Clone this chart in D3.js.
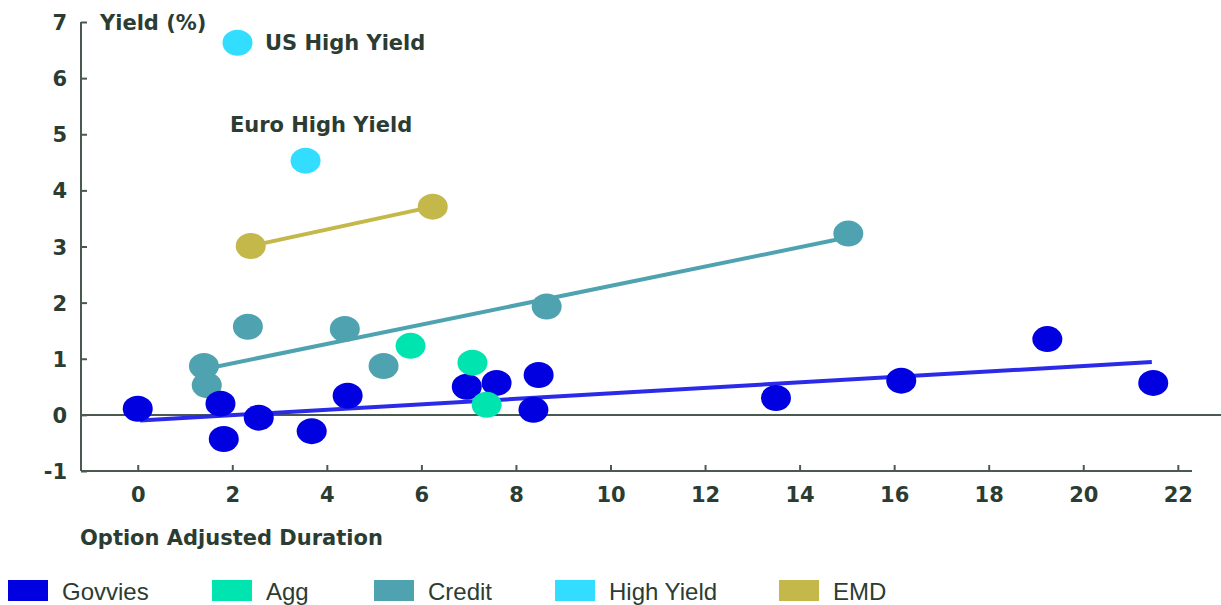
<!DOCTYPE html>
<html>
<head>
<meta charset="utf-8">
<script src="https://cdn.jsdelivr.net/npm/d3@7"></script>
<style>
  body { margin: 0; background: #fff; }
  svg text { font-family: "DejaVu Sans", sans-serif; fill: #2b3d33; }
</style>
</head>
<body>
<div id="chart"></div>
<script>
// categories and colours
var seriesNames = ["Govvies", "Agg", "Credit", "High Yield", "EMD"];
var seriesColors = ["#0000e0", "#00e5b0", "#4fa3b0", "#33ddff", "#c4b84a"];

// points: [duration, yield]
var govvies = [[0, 0.11], [1.75, 0.2], [1.82, -0.43], [2.56, -0.05], [3.68, -0.29], [4.44, 0.34],
    [6.96, 0.5], [7.59, 0.57], [8.37, 0.09], [8.48, 0.71], [13.5, 0.3], [16.15, 0.61],
    [19.24, 1.35], [21.48, 0.57]];
var agg = [[5.77, 1.23], [7.08, 0.93], [7.38, 0.18]];
var credit = [[1.4, 0.87], [1.46, 0.53], [2.33, 1.57], [4.38, 1.53], [5.2, 0.87], [8.65, 1.93], [15.03, 3.23]];
var highYield = [[2.11, 6.63], [3.55, 4.53]];
var emd = [[2.39, 3.01], [6.24, 3.71]];

// trend lines
var govviesLine = [[0.05, -0.1], [21.45, 0.94]];
var creditLine = [[1.6, 0.85], [14.95, 3.15]];
var emdLine = [[2.39, 3.01], [6.24, 3.71]];

// annotation labels
var notes = [{text: "US High Yield", x: 2.69, y: 6.63}, {text: "Euro High Yield", x: 1.95, y: 5.18}];

var xTicks = [0, 2, 4, 6, 8, 10, 12, 14, 16, 18, 20, 22];
var yTicks = [-1, 0, 1, 2, 3, 4, 5, 6, 7];

var W = 1221, H = 605;
var axisColor = "#4a5a50";

var svg = d3.select("#chart").append("svg").attr("width", W).attr("height", H);

var x = d3.scaleLinear().domain([-1.2, 22.3]).range([81, 1192]);
var y = d3.scaleLinear().domain([-1, 7]).range([471, 22]);

// y axis
var yAxis = d3.axisLeft(y).tickValues(yTicks).tickSize(-6).tickPadding(14).tickFormat(d => String(d));
var gy = svg.append("g").attr("transform", "translate(81,0)").call(yAxis);
gy.select(".domain").attr("stroke", axisColor).attr("stroke-width", 2).attr("d", "M0," + y(7) + "V" + y(-1));
gy.selectAll(".tick line").attr("stroke", axisColor).attr("stroke-width", 2);
gy.selectAll("text").style("font-size", "21px").style("font-weight", "bold").attr("dy", "0.36em");

// x axis
var xAxis = d3.axisBottom(x).tickValues(xTicks).tickSize(-6).tickPadding(16);
var gx = svg.append("g").attr("transform", "translate(0," + y(-1) + ")").call(xAxis);
gx.select(".domain").attr("stroke", axisColor).attr("stroke-width", 2).attr("d", "M81,0H1192");
gx.selectAll(".tick line").attr("stroke", axisColor).attr("stroke-width", 2);
gx.selectAll("text").style("font-size", "21px").style("font-weight", "bold");

// zero line
svg.append("line").attr("x1", 81).attr("x2", W).attr("y1", y(0)).attr("y2", y(0))
    .attr("stroke", axisColor).attr("stroke-width", 2);

// axis titles
svg.append("text").attr("x", 100).attr("y", 30).text("Yield (%)")
    .style("font-size", "21px").style("font-weight", "bold");
svg.append("text").attr("x", 80).attr("y", 545).text("Option Adjusted Duration")
    .style("font-size", "21px").style("font-weight", "bold");

var line = d3.line().x(d => x(d[0])).y(d => y(d[1]));

svg.append("path").datum(govviesLine).attr("d", line).attr("stroke", "#2a2ae8").attr("stroke-width", 4).attr("fill", "none");
svg.append("path").datum(creditLine).attr("d", line).attr("stroke", "#4fa3b0").attr("stroke-width", 4).attr("fill", "none");
svg.append("path").datum(emdLine).attr("d", line).attr("stroke", "#c4b84a").attr("stroke-width", 4).attr("fill", "none");

var groups = [govvies, agg, credit, highYield, emd];
var drawOrder = [2, 4, 3, 0, 1];
drawOrder.forEach(function(i) {
    svg.append("g").selectAll("ellipse")
        .data(groups[i])
        .enter().append("ellipse")
            .attr("cx", d => x(d[0]))
            .attr("cy", d => y(d[1]))
            .attr("rx", 15)
            .attr("ry", 13)
            .attr("fill", seriesColors[i]);
});

svg.selectAll(".note").data(notes).enter().append("text")
    .attr("class", "note")
    .attr("x", d => x(d.x)).attr("y", d => y(d.y))
    .attr("dy", "0.36em")
    .text(d => d.text)
    .style("font-size", "21px").style("font-weight", "bold");

// legend
var legendX = [8, 212, 374, 555, 779];
var leg = svg.append("g").selectAll("g").data(seriesNames).enter().append("g")
    .attr("transform", (d, i) => "translate(" + legendX[i] + ",580)");
leg.append("rect").attr("width", 40).attr("height", 21).attr("fill", (d, i) => seriesColors[i]);
leg.append("text").attr("x", 54).attr("y", 11).attr("dy", "0.36em").text(d => d)
    .style("font-family", "'Liberation Sans', Arial, sans-serif")
    .style("font-size", "24px");
</script>
</body>
</html>
